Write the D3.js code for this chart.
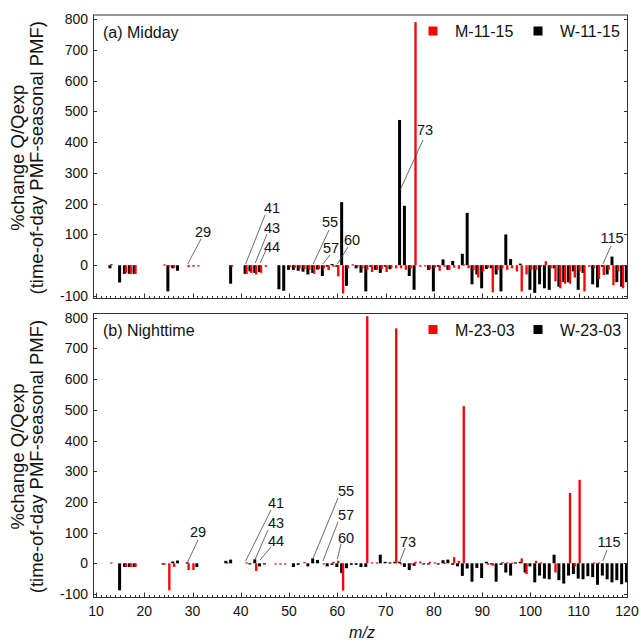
<!DOCTYPE html>
<html><head><meta charset="utf-8">
<script src="https://cdn.jsdelivr.net/npm/d3@7"></script>
<style>body{margin:0;background:#fff} svg{display:block} text{font-family:Arial,"Liberation Sans",sans-serif;fill:#111}</style>
</head><body><svg id="c" width="641" height="642"></svg>
<script>
// m/z categories 12..120
const mz = [12,13,14,15,16,17,18,19,20,21,
 22,23,24,25,26,27,28,29,30,31,
 32,33,34,35,36,37,38,39,40,41,
 42,43,44,45,46,47,48,49,50,51,
 52,53,54,55,56,57,58,59,60,61,
 62,63,64,65,66,67,68,69,70,71,
 72,73,74,75,76,77,78,79,80,81,
 82,83,84,85,86,87,88,89,90,91,
 92,93,94,95,96,97,98,99,100,101,
 102,103,104,105,106,107,108,109,110,111,
 112,113,114,115,116,117,118,119,120];

// (a) Midday
const middayW = [0,-10,0,-56,-28,-28,-28,0,0,0,
 0,0,0,-85,-10,-18,0,0,0,0,
 0,0,0,0,0,0,-60,0,0,-28,
 -20,-25,-22,0,0,0,-78,-83,-15,-15,
 -18,-21,-30,-25,-14,-35,-5,4,-5,205,
 -67,0,-10,-24,-85,-5,-15,-25,-5,-13,
 0,472,193,-35,-80,0,0,-15,-85,-5,
 19,-15,14,0,37,170,-62,-30,-75,-12,
 -10,-30,-85,100,20,0,5,0,-80,-90,
 -62,-75,-80,-10,-70,-55,-55,-20,-80,-25,
 0,-62,-72,-5,-30,28,-55,-70,-55];
const middayM = [0,4,0,0,-25,-28,-28,0,0,0,
 0,0,3,-5,-8,0,0,-6,-5,-1,
 0,0,0,0,0,0,-5,0,0,-28,
 -25,-30,-25,-5,0,0,0,0,-5,-8,
 -10,-12,-15,-28,-12,-10,-16,-5,-36,-92,
 -10,3,-5,-10,-15,-22,-15,-12,-22,-8,
 -10,-10,-15,-10,790,-5,-3,-12,-8,-18,
 -5,-15,-8,-12,3,-10,-15,-40,-20,-8,
 -88,-15,-10,-15,-10,-20,-85,-30,-15,-15,
 -5,13,-10,-52,-75,-60,-60,-40,-20,-85,
 -5,-10,-45,-32,-15,-65,-20,-75,-25];

// (b) Nighttime
const nightW = [0,0,0,-88,-12,-12,-12,0,0,0,
 0,0,-3,0,6,9,0,3,0,-12,
 0,0,0,0,0,8,12,0,0,0,
 -2,13,-10,-2,0,0,0,0,0,-12,
 -5,0,-10,16,11,0,-10,-5,-12,-32,
 -16,-5,-5,-12,-12,0,0,28,5,3,
 5,5,-12,-22,-8,0,-4,-4,0,-4,
 10,12,-5,-10,-41,-17,-60,-15,-48,5,
 -3,-60,-5,-30,-40,3,5,-30,-10,-62,
 -40,-50,-52,28,-55,-66,-40,-35,-50,-52,
 -42,-45,-70,-40,-52,-62,-55,-68,-62];
const nightM = [0,3,0,0,-12,-12,-12,0,0,0,
 0,0,-5,-88,-12,0,0,-22,-22,0,
 0,0,0,0,0,3,0,0,0,3,
 0,-25,0,0,0,-2,-2,-2,0,0,
 0,4,0,0,0,-3,0,5,8,-89,
 0,0,0,0,805,3,3,0,0,0,
 765,-3,0,-5,5,6,0,5,3,0,
 2,0,20,8,512,0,0,0,0,-5,
 -8,0,4,3,2,0,16,-35,0,8,
 3,0,0,-30,0,0,229,-10,272,0,
 0,3,3,0,0,0,0,0,0];

const yTicks = [-100,0,100,200,300,400,500,600,700,800];
const xTicks = [10,20,30,40,50,60,70,80,90,100,110,120];

const svg = d3.select("#c");
const x = d3.scaleLinear().domain([10,120]).range([96,627]);
const frameL = 93, frameR = 628;

const panels = [
  {id:"a", title:"(a) Midday", M:middayM, W:middayW, mName:"M-11-15", wName:"W-11-15",
   top:15, bot:298.5, y:d3.scaleLinear().domain([-100,800]).range([296,19]),
   ann:[
     {m:29,tx:203,ty:232,lx:201,ly:239,ey:264},
     {m:41,tx:272,ty:208,lx:265,ly:215,ey:264},
     {m:43,tx:272,ty:228,lx:267,ly:234,ey:263},
     {m:44,tx:272,ty:247,lx:266,ly:250,ey:263},
     {m:55,tx:330,ty:222,lx:329,ly:230,ey:264},
     {m:57,tx:331,ty:248,lx:330,ly:255,ey:264},
     {m:60,tx:352,ty:240,lx:348,ly:247,ey:264},
     {m:73,tx:425,ty:130,lx:423,ly:140,ey:190},
     {m:115,tx:612,ty:238,lx:611,ly:246,ey:264}
   ]},
  {id:"b", title:"(b) Nighttime", M:nightM, W:nightW, mName:"M-23-03", wName:"W-23-03",
   top:313.5, bot:597.5, y:d3.scaleLinear().domain([-100,800]).range([594,317.7]),
   ann:[
     {m:29,tx:198,ty:532,lx:198,ly:540,ey:562},
     {m:41,tx:276,ty:503,lx:271,ly:510,ey:561},
     {m:43,tx:276,ty:523,lx:268,ly:530,ey:559},
     {m:44,tx:276,ty:541,lx:271,ly:547,ey:560},
     {m:55,tx:346,ty:491,lx:338,ly:498,ey:558},
     {m:57,tx:346,ty:515,lx:338,ly:522,ey:561},
     {m:60,tx:346,ty:538,lx:341,ly:544,ey:559},
     {m:73,tx:408,ty:542,lx:405,ly:548,ey:561},
     {m:115,tx:609,ty:542,lx:607,ly:550,ey:561}
   ]}
];

const defs = svg.append("defs");

panels.forEach(p => {
  const g = svg.append("g");
  const y = p.y;
  defs.append("clipPath").attr("id","clip"+p.id).append("rect")
    .attr("x",frameL).attr("y",p.top).attr("width",frameR-frameL).attr("height",p.bot-p.top);
  const bars = g.append("g").attr("clip-path",`url(#clip${p.id})`);
  const wData = mz.map((m,i)=>({m, v:p.W[i]})).filter(d=>d.v!==0);
  const mData = mz.map((m,i)=>({m, v:p.M[i]})).filter(d=>d.v!==0);
  bars.selectAll(".w").data(wData).join("rect")
    .attr("x", d=>x(d.m-0.42)).attr("width",x(0.62)-x(0))
    .attr("y", d=>y(Math.max(0,d.v))).attr("height", d=>Math.max(1.2,Math.abs(y(d.v)-y(0))))
    .attr("fill","#000");
  bars.selectAll(".mm").data(mData).join("rect")
    .attr("x", d=>x(d.m-0.05)).attr("width",x(0.48)-x(0))
    .attr("y", d=>y(Math.max(0,d.v))).attr("height", d=>Math.max(1.2,Math.abs(y(d.v)-y(0))))
    .attr("fill","#f00");

  g.append("rect").attr("x",frameL+0.5).attr("y",p.top).attr("width",frameR-frameL-1).attr("height",p.bot-p.top)
    .attr("fill","none").attr("stroke","#333").attr("stroke-width",1);

  yTicks.forEach(t=>{
    const yy = Math.round(y(t))+0.5;
    g.append("line").attr("x1",frameL).attr("x2",frameL+4).attr("y1",yy).attr("y2",yy).attr("stroke","#333");
    g.append("line").attr("x1",frameR-4).attr("x2",frameR).attr("y1",yy).attr("y2",yy).attr("stroke","#333");
    g.append("text").attr("x",88).attr("y",y(t)).attr("dy","0.36em").attr("text-anchor","end")
      .attr("font-size",14).text(t);
  });
  d3.range(10,121,1).forEach(t=>{
    const xx = Math.round(x(t))+0.5;
    const len = (t%10===0)?5:2.5;
    g.append("line").attr("x1",xx).attr("x2",xx).attr("y1",p.bot).attr("y2",p.bot-len).attr("stroke","#333");
  });

  p.ann.forEach(a=>{
    g.append("line").attr("x1",a.lx).attr("y1",a.ly).attr("x2",x(a.m)).attr("y2",a.ey)
      .attr("stroke","#444").attr("stroke-width",0.8);
    g.append("text").attr("x",a.tx).attr("y",a.ty).attr("dy","0.36em").attr("text-anchor","middle")
      .attr("font-size",14.5).text(a.m);
  });

  g.append("text").attr("x",103).attr("y",p.top+22.5).attr("font-size",16).text(p.title);
  g.append("rect").attr("x",428.5).attr("y",p.top+11.5).attr("width",9).attr("height",9).attr("fill","#f00");
  g.append("text").attr("x",455).attr("y",p.top+22.3).attr("font-size",16).text(p.mName);
  g.append("rect").attr("x",533.5).attr("y",p.top+11.5).attr("width",9).attr("height",9).attr("fill","#000");
  g.append("text").attr("x",560).attr("y",p.top+22.3).attr("font-size",16).text(p.wName);

  const cy = (p.top+p.bot)/2 + 1;
  g.append("text").attr("transform",`translate(18,${cy}) rotate(-90)`).attr("dy","0.35em")
    .attr("text-anchor","middle").attr("font-size",18.5).text("%change Q/Qexp");
  g.append("text").attr("transform",`translate(37,${cy}) rotate(-90)`).attr("dy","0.35em")
    .attr("text-anchor","middle").attr("font-size",18.5).text("(time-of-day PMF-seasonal PMF)");
});

xTicks.forEach(t=>{
  svg.append("text").attr("x",x(t)).attr("y",616).attr("text-anchor","middle").attr("font-size",14).text(t);
});
svg.append("text").attr("x",362).attr("y",638).attr("text-anchor","middle").attr("font-size",16)
  .attr("font-style","italic").text("m/z");
</script></body></html>
